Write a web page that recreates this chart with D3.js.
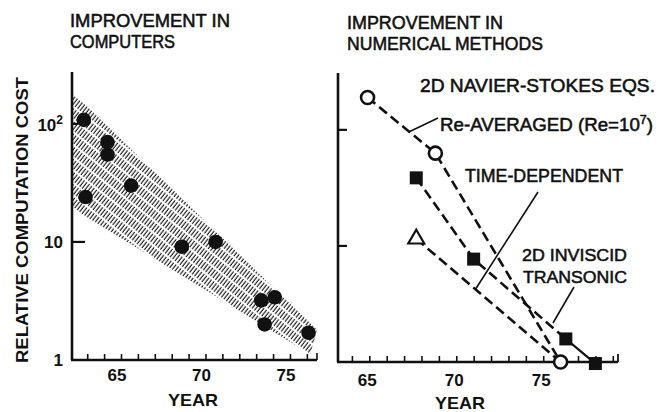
<!DOCTYPE html>
<html><head><meta charset="utf-8">
<script src="https://cdn.jsdelivr.net/npm/d3@7"></script>
<style>
html,body{margin:0;padding:0;background:#fff;}
svg text{font-family:"Liberation Sans",Arial,sans-serif;fill:#111;}
svg text.ann{stroke:#111;stroke-width:0.55px;}
</style></head>
<body><svg id="c" width="659" height="412"></svg>
<script>
// ---- data ----
const compYears = [62.8, 62.9, 64.2, 64.2, 65.6, 68.6, 70.6, 73.3, 74.1, 73.5, 76.1];
const compCost  = [108, 24, 70, 55, 30, 9.1, 10, 3.2, 3.4, 2.0, 1.7];
const bandYears = [62.1, 76.6, 76.2, 62.1];
const bandCost  = [187, 1.8, 1.12, 19.4];
const reAvgYears = [64.9, 68.8, 76];
const reAvgCost  = [190, 63, 1];
const timeDepYears = [67.7, 76];
const timeDepCost  = [11.5, 1];
const invYears = [67.7, 71, 76.3, 78];
const invCost  = [38.6, 7.7, 1.58, 0.97];
const xTickLabels = [65, 70, 75];
const leftYTicks = [1, 10, 100];
const rightYTicks = [10, 100];

const svg = d3.select("#c");
const ink = "#111";

// ---- scales ----
const xL = d3.scaleLinear().domain([62.1, 76.6]).range([72, 317]);
const yL = d3.scaleLog().domain([1, 275]).range([360, 72]);
const xR = d3.scaleLinear().domain([63.2, 79.3]).range([338, 618]);
const yR = d3.scaleLog().domain([1, 309]).range([362, 73]);

// ---- hatch pattern ----
const defs = svg.append("defs");
const pat = defs.append("pattern").attr("id","hatch").attr("patternUnits","userSpaceOnUse")
  .attr("width",3.1).attr("height",10).attr("patternTransform","rotate(38)");
pat.append("line").attr("x1",1).attr("y1",0).attr("x2",1).attr("y2",10)
  .attr("stroke","#1c1c1c").attr("stroke-width",1.15).attr("stroke-dasharray","8,2");

// ---- text helper ----
function txt(x,y,s,size,w,weight,anchor,cls){
  const t = svg.append("text").attr("x",x).attr("y",y).attr("font-size",size)
    .attr("font-weight",weight||"normal").attr("text-anchor",anchor||"start").text(s);
  if(cls) t.attr("class",cls);
  if(w) t.attr("textLength",w).attr("lengthAdjust","spacingAndGlyphs");
  return t;
}
txt(70,27,"IMPROVEMENT IN",18,160,"normal","start","ann");
txt(70,48,"COMPUTERS",18,105,"normal","start","ann");
txt(347,29,"IMPROVEMENT IN",18,156,"normal","start","ann");
txt(347,50,"NUMERICAL METHODS",18,196,"normal","start","ann");

// ---- left panel ----
const gL = svg.append("g");
const bandPts = bandYears.map((y,i)=>[xL(y), yL(bandCost[i])]);
gL.append("path").attr("d", d3.line()(bandPts)+"Z").attr("fill","url(#hatch)").attr("stroke","none");

gL.append("line").attr("x1",xL.range()[0]).attr("x2",xL.range()[0]).attr("y1",yL.range()[1]).attr("y2",yL(1))
  .attr("stroke",ink).attr("stroke-width",2.6);
gL.selectAll(".ytk").data([10,100]).enter().append("line")
  .attr("x1",xL.range()[0]).attr("x2",(d)=>xL.range()[0]+(d===10?13:6))
  .attr("y1",d=>yL(d)).attr("y2",d=>yL(d)).attr("stroke",ink).attr("stroke-width",2.2);
const axLx = d3.axisTop(xL).tickValues(d3.range(63,77)).tickSize(6).tickFormat("");
gL.append("g").attr("transform",`translate(0,${yL(1)})`).call(axLx)
  .call(g=>{g.select(".domain").remove(); g.selectAll("line").attr("stroke",ink).attr("stroke-width",1.6);});
gL.append("line").attr("x1",xL.range()[0]-1).attr("x2",xL.range()[1]).attr("y1",yL(1)).attr("y2",yL(1))
  .attr("stroke",ink).attr("stroke-width",2.6);
gL.append("line").attr("x1",xL.range()[1]).attr("x2",xL.range()[1]).attr("y1",yL(1)).attr("y2",yL(1)-7)
  .attr("stroke",ink).attr("stroke-width",1.6);

// y tick labels
leftYTicks.forEach(v=>{
  const t = gL.append("text").attr("x",63).attr("y",yL(v)+6).attr("text-anchor","end")
    .attr("font-size",17).attr("font-weight","bold");
  if(v===100){ t.append("tspan").text("10"); t.append("tspan").attr("font-size",12).attr("dy",-7).text("2"); t.attr("y",yL(v)+7);}
  else t.text(String(v));
});
svg.append("text").attr("transform","translate(28,220) rotate(-90)").attr("text-anchor","middle")
  .attr("font-size",17).attr("font-weight","bold").attr("textLength",286).attr("lengthAdjust","spacingAndGlyphs")
  .text("RELATIVE COMPUTATION COST");
xTickLabels.forEach(v=> txt(xL(v)-4, 381, String(v), 17, null, "bold","middle"));
txt(193,406,"YEAR",17,50,"bold","middle");

// points
gL.selectAll(".pt").data(compYears.map((y,i)=>[y,compCost[i]])).enter().append("circle")
  .attr("cx",d=>xL(d[0])).attr("cy",d=>yL(d[1])).attr("r",7.3).attr("fill",ink);

// ---- right panel ----
const gR = svg.append("g");
gR.append("line").attr("x1",xR.range()[0]).attr("x2",xR.range()[0]).attr("y1",yR.range()[1]).attr("y2",yR(1))
  .attr("stroke",ink).attr("stroke-width",2.6);
gR.selectAll(".ytk").data(rightYTicks).enter().append("line")
  .attr("x1",xR.range()[0]).attr("x2",xR.range()[0]+9)
  .attr("y1",d=>yR(d)).attr("y2",d=>yR(d)).attr("stroke",ink).attr("stroke-width",2.2);
const axRx = d3.axisTop(xR).tickValues(d3.range(64,80)).tickSize(6).tickFormat("");
gR.append("g").attr("transform",`translate(0,${yR(1)})`).call(axRx)
  .call(g=>{g.select(".domain").remove(); g.selectAll("line").attr("stroke",ink).attr("stroke-width",1.6);});
gR.append("line").attr("x1",xR.range()[0]-1).attr("x2",xR.range()[1]).attr("y1",yR(1)).attr("y2",yR(1))
  .attr("stroke",ink).attr("stroke-width",2.6);
gR.append("line").attr("x1",xR.range()[1]).attr("x2",xR.range()[1]).attr("y1",yR(1)).attr("y2",yR(1)-8)
  .attr("stroke",ink).attr("stroke-width",1.8);
xTickLabels.forEach(v=> txt(xR(v)-2, 386, String(v), 17, null, "bold","middle"));
txt(460,409,"YEAR",17,50,"bold","middle");

const line = d3.line().x(d=>xR(d[0])).y(d=>yR(d[1]));
const dash = "10,5";
const re = reAvgYears.map((y,i)=>[y,reAvgCost[i]]);
const td = timeDepYears.map((y,i)=>[y,timeDepCost[i]]);
const inv = invYears.map((y,i)=>[y,invCost[i]]);
gR.append("path").attr("d",line(re)).attr("fill","none").attr("stroke",ink).attr("stroke-width",2.6).attr("stroke-dasharray",dash);
gR.append("path").attr("d",line(td)).attr("fill","none").attr("stroke",ink).attr("stroke-width",2.6).attr("stroke-dasharray",dash);
gR.append("path").attr("d",line(inv.slice(0,3))).attr("fill","none").attr("stroke",ink).attr("stroke-width",2.6).attr("stroke-dasharray",dash);
gR.append("path").attr("d",line(inv.slice(2))).attr("fill","none").attr("stroke",ink).attr("stroke-width",2.2);

// leader lines
function lead(x1,y1,x2,y2){gR.append("line").attr("x1",x1).attr("y1",y1).attr("x2",x2).attr("y2",y2).attr("stroke",ink).attr("stroke-width",1.6);}
lead(438,118, xR(67.3), yR(reAvgCost[0]*Math.pow(reAvgCost[1]/reAvgCost[0],(67.3-64.9)/(68.8-64.9))));
lead(538,192, 475, 290);
lead(574,287, 553,323);

// markers
gR.selectAll(".sq").data(inv).enter().append("rect")
  .attr("x",d=>xR(d[0])-6.5).attr("y",d=>yR(d[1])-6.5).attr("width",13).attr("height",13).attr("fill",ink);
gR.selectAll(".ci").data(re).enter().append("circle")
  .attr("cx",d=>xR(d[0])).attr("cy",d=>yR(d[1])).attr("r",6.5).attr("fill","#fff").attr("stroke",ink).attr("stroke-width",2.6);
gR.append("path").attr("d",d3.symbol().type(d3.symbolTriangle).size(110)())
  .attr("transform",`translate(${xR(td[0][0])},${yR(td[0][1])})`).attr("fill","#fff").attr("stroke",ink).attr("stroke-width",2.2);

// annotations
txt(420,92,"2D NAVIER-STOKES EQS.",18,235,"normal","start","ann");
const ra = txt(440,131,"",18,null,"normal","start","ann");
ra.append("tspan").text("Re-AVERAGED (Re=10");
ra.append("tspan").attr("font-size",12).attr("dy",-7).text("7");
ra.append("tspan").attr("dy",7).text(")");
ra.attr("textLength",213).attr("lengthAdjust","spacingAndGlyphs");
txt(465,182,"TIME-DEPENDENT",18,158,"normal","start","ann");
txt(522,261,"2D INVISCID",17,105,"normal","start","ann");
txt(523,283,"TRANSONIC",17,104,"normal","start","ann");
</script></body></html>
